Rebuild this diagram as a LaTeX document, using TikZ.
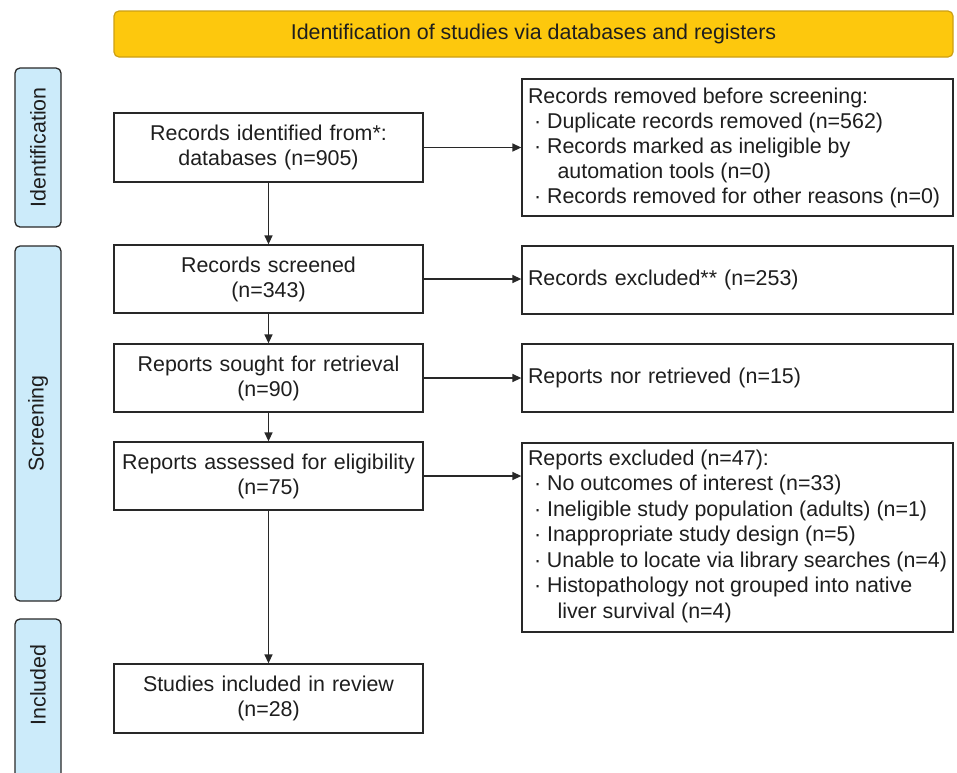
\documentclass[tikz,border=0pt]{standalone}
\usepackage{fontspec}
\setmainfont{Liberation Sans}
\usetikzlibrary{arrows.meta}
\definecolor{bannerfill}{RGB}{253,200,13}
\definecolor{bannerdraw}{RGB}{205,160,20}
\definecolor{sidefill}{RGB}{204,235,250}
\definecolor{linecol}{RGB}{40,40,40}
\definecolor{txtcol}{RGB}{30,30,30}
\begin{document}
\begin{tikzpicture}[x=1pt,y=-1pt,
  every node/.style={font=\fontsize{21.4}{25}\selectfont, text=txtcol},
  flowbox/.style={draw=linecol, line width=1.3pt, fill=white, inner xsep=6pt, inner ysep=0pt, minimum width=309pt, text width=297pt, align=center},
  sidebox/.style={draw=linecol, line width=1.3pt, fill=white, inner xsep=6pt, inner ysep=0pt, minimum width=431pt, text width=419pt, align=left},
  topbox/.style={draw=linecol, line width=1.3pt, fill=white, inner sep=6pt, inner ysep=0pt},
  phase/.style={draw=linecol, line width=1.3pt, fill=sidefill, rounded corners=5pt, rotate=90, minimum height=46pt, inner sep=0pt},
  arr/.style={draw=linecol, line width=1.4pt, -{Triangle[length=9pt,width=8pt]}},
]
\path[use as bounding box] (0,0) rectangle (957,772);
\clip (0,0) rectangle (957,772);

% banner
\node[draw=bannerdraw, line width=1.2pt, fill=bannerfill, rounded corners=5pt, minimum width=839pt, minimum height=46pt, inner sep=0pt] (banner) at (533.5,34) {Identification of studies via databases and registers};

% phase labels
\node[phase, minimum width=159pt] (ident) at (38,147.5) {Identification};
\node[phase, minimum width=355pt] (screen) at (38,423.5) {Screening};
\node[phase, minimum width=181pt] (incl) at (38,709.5) {};
\node[rotate=90, inner sep=0pt] (incltext) at (38,685) {Included};

% main column
\node[flowbox, minimum height=69pt] (b1) at (268.5,147.5) {Records identified from*:\\databases (n=905)};
\node[flowbox, minimum height=68pt] (b2) at (268.5,279) {Records screened\\(n=343)};
\node[flowbox, minimum height=68pt] (b3) at (268.5,378) {Reports sought for retrieval\\(n=90)};
\node[flowbox, minimum height=68pt] (b4) at (268.5,476) {Reports assessed for eligibility\\(n=75)};
\node[flowbox, minimum height=69pt] (b5) at (268.5,698.5) {Studies included in review\\(n=28)};

% right column
\node[topbox] (r1) at (737.5,147.5) {\begin{minipage}[c][137pt][t]{419pt}\raggedright
\rule{0pt}{24pt}Records removed before screening:\\
\hspace*{6pt}·\ Duplicate records removed (n=562)\\
\hspace*{6pt}·\ Records marked as ineligible by\\
\hspace*{29.5pt}automation tools (n=0)\\
\hspace*{6pt}·\ Records removed for other reasons (n=0)
\end{minipage}};
\node[sidebox, minimum height=68pt] (r2) at (737.5,280) {Records excluded** (n=253)};
\node[sidebox, minimum height=68pt] (r3) at (737.5,378) {Reports nor retrieved (n=15)};
\node[topbox] (r4) at (737.5,537.5) {\begin{minipage}[c][189pt][t]{419pt}\raggedright\fontsize{21.4}{25.5}\selectfont
\rule{0pt}{22pt}Reports excluded (n=47):\\
\hspace*{6pt}·\ No outcomes of interest (n=33)\\
\hspace*{6pt}·\ Ineligible study population (adults) (n=1)\\
\hspace*{6pt}·\ Inappropriate study design (n=5)\\
\hspace*{6pt}·\ Unable to locate via library searches (n=4)\\
\hspace*{6pt}·\ Histopathology not grouped into native\\
\hspace*{29.5pt}liver survival (n=4)
\end{minipage}};

% connectors
\draw[arr] (b1.south) -- (b2.north);
\draw[arr] (b2.south) -- (b3.north);
\draw[arr] (b3.south) -- (b4.north);
\draw[arr] (b4.south) -- (b5.north);
\draw[arr] (b1.east) -- (b1.east -| r1.west);
\draw[arr] (b2.east) -- (b2.east -| r2.west);
\draw[arr] (b3.east) -- (b3.east -| r3.west);
\draw[arr] (b4.east) -- (b4.east -| r4.west);
\end{tikzpicture}
\end{document}
